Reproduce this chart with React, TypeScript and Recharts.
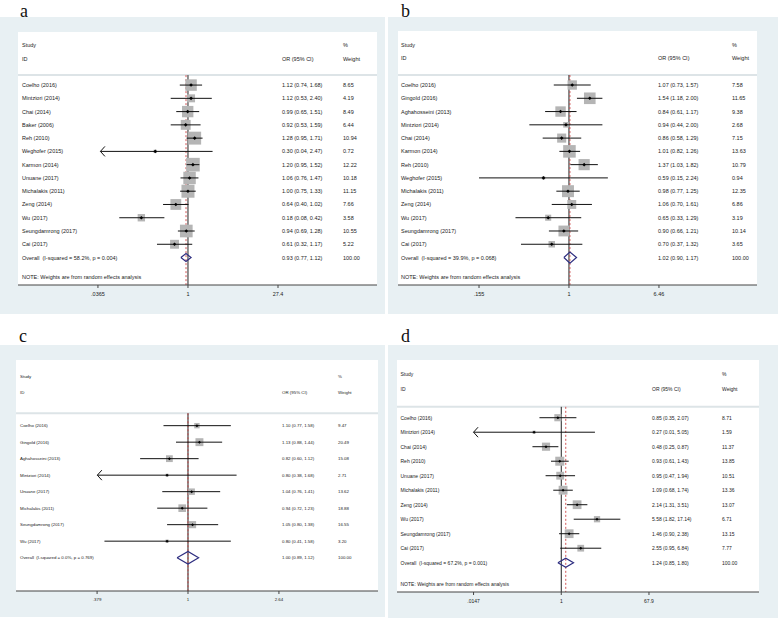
import React from 'react'
import { ComposedChart, Scatter, XAxis, YAxis, ReferenceLine } from 'recharts'

const BG = '#e8f0f3'
const FONT = '"Liberation Sans", Arial, Helvetica, sans-serif'
const SERIF = '"Liberation Serif", "Times New Roman", serif'

// panel a
const studiesA = ['Coelho (2016)', 'Mintziori (2014)', 'Chai (2014)', 'Baker (2006)', 'Reh (2010)', 'Weghofer (2015)', 'Karmon (2014)', 'Unuane (2017)', 'Michalakis (2011)', 'Zeng (2014)', 'Wu (2017)', 'Seungdamrong (2017)', 'Cai (2017)']
const orA = [1.12, 1.12, 0.99, 0.92, 1.28, 0.30, 1.20, 1.06, 1.00, 0.64, 0.18, 0.94, 0.61]
const lowA = [0.74, 0.53, 0.65, 0.53, 0.95, 0.04, 0.95, 0.76, 0.75, 0.40, 0.08, 0.69, 0.32]
const highA = [1.68, 2.40, 1.51, 1.59, 1.71, 2.47, 1.52, 1.47, 1.33, 1.02, 0.42, 1.28, 1.17]
const weightA = [8.65, 4.19, 8.49, 6.44, 10.94, 0.72, 12.22, 10.18, 11.15, 7.66, 3.58, 10.55, 5.22]
const overallA = [0.93, 0.77, 1.12]
const hetA = 'I-squared = 58.2%, p = 0.004'
const ticksA = [0.0365, 1, 27.4]
const tickLabelsA = ['.0365', '1', '27.4']
const arrowsA = ['Weghofer (2015)']

// panel b
const studiesB = ['Coelho (2016)', 'Gingold (2016)', 'Aghahosseini (2013)', 'Mintziori (2014)', 'Chai (2014)', 'Karmon (2014)', 'Reh (2010)', 'Weghofer (2015)', 'Michalakis (2011)', 'Zeng (2014)', 'Wu (2017)', 'Seungdamrong (2017)', 'Cai (2017)']
const orB = [1.07, 1.54, 0.84, 0.94, 0.86, 1.01, 1.37, 0.59, 0.98, 1.06, 0.65, 0.90, 0.70]
const lowB = [0.73, 1.18, 0.61, 0.44, 0.58, 0.82, 1.03, 0.15, 0.77, 0.70, 0.33, 0.66, 0.37]
const highB = [1.57, 2.00, 1.17, 2.00, 1.29, 1.26, 1.82, 2.24, 1.25, 1.61, 1.29, 1.21, 1.32]
const weightB = [7.58, 11.65, 9.38, 2.68, 7.15, 13.63, 10.79, 0.94, 12.35, 6.86, 3.19, 10.14, 3.65]
const overallB = [1.02, 0.90, 1.17]
const hetB = 'I-squared = 39.9%, p = 0.068'
const ticksB = [0.155, 1, 6.46]
const tickLabelsB = ['.155', '1', '6.46']
const arrowsB: string[] = []

// panel c
const studiesC = ['Coelho (2016)', 'Gingold (2016)', 'Aghahosseini (2013)', 'Mintziori (2014)', 'Unuane (2017)', 'Michalakis (2011)', 'Seungdamrong (2017)', 'Wu (2017)']
const orC = [1.10, 1.13, 0.82, 0.80, 1.04, 0.94, 1.05, 0.80]
const lowC = [0.77, 0.88, 0.60, 0.38, 0.76, 0.72, 0.80, 0.41]
const highC = [1.58, 1.44, 1.12, 1.68, 1.41, 1.23, 1.38, 1.58]
const weightC = [9.47, 20.49, 15.08, 2.71, 13.62, 18.88, 16.55, 3.20]
const overallC = [1.00, 0.89, 1.12]
const hetC = 'I-squared = 0.0%, p = 0.769'
const ticksC = [0.379, 1, 2.64]
const tickLabelsC = ['.379', '1', '2.64']
const arrowsC = ['Mintziori (2014)']

// panel d
const studiesD = ['Coelho (2016)', 'Mintziori (2014)', 'Chai (2014)', 'Reh (2010)', 'Unuane (2017)', 'Michalakis (2011)', 'Zeng (2014)', 'Wu (2017)', 'Seungdamrong (2017)', 'Cai (2017)']
const orD = [0.85, 0.27, 0.48, 0.93, 0.95, 1.09, 2.14, 5.58, 1.46, 2.55]
const lowD = [0.35, 0.01, 0.25, 0.61, 0.47, 0.68, 1.31, 1.82, 0.90, 0.95]
const highD = [2.07, 5.05, 0.87, 1.43, 1.94, 1.74, 3.51, 17.14, 2.38, 6.84]
const weightD = [8.71, 1.59, 11.37, 13.85, 10.51, 13.36, 13.07, 6.71, 13.15, 7.77]
const overallD = [1.24, 0.85, 1.80]
const hetD = 'I-squared = 67.2%, p = 0.001'
const ticksD = [0.0147, 1, 67.9]
const tickLabelsD = ['.0147', '1', '67.9']
const arrowsD = ['Mintziori (2014)']

const NOTE = 'NOTE: Weights are from random effects analysis'

const Empty = () => <g />

function ForestPanel(p: any) {
  const n = p.studies.length
  const rows = p.studies.map((s: string, i: number) => ({
    x: p.or[i],
    y: i,
    w: p.weight[i],
    lo: Math.max(p.low[i], p.ticks[0]),
    hi: Math.min(p.high[i], p.ticks[2]),
    arrow: p.arrows.includes(s),
  }))
  const [oOr, oLo, oHi] = p.overall
  const h = p.diamondHalf
  const diamond = [
    { x: oLo, y: n },
    { x: oOr, y: n - h },
    { x: oHi, y: n },
    { x: oOr, y: n + h },
    { x: oLo, y: n },
  ]
  const arrowPts = rows.filter((r: any) => r.arrow).map((r: any) => ({ x: r.lo, y: r.y }))
  const yTicks = [-3, -2, ...rows.map((r: any) => r.y), n]
  if (p.note) yTicks.push(n + 1.5)
  const yBottom = p.domainY[1]
  const ci = (o: number, l: number, u: number) => `${o.toFixed(2)} (${l.toFixed(2)}, ${u.toFixed(2)})`

  const txt = (x: number, y: number, s: string, key: string) => (
    <text key={key} x={x} y={y} fontSize={p.font} fontFamily={FONT} fill="#222" dominantBaseline="central" style={{ whiteSpace: 'pre' }}>
      {s}
    </text>
  )

  // all the text columns hang off the row ticks of the y axis
  const rowTick = (props: any) => {
    const v = props.payload.value
    const y = props.y
    const c = p.cols
    let items: any[] = []
    if (v === -3) items = [txt(c[0], y, 'Study', 's'), txt(c[2], y, '%', 'w')]
    else if (v === -2) items = [txt(c[0], y, 'ID', 's'), txt(c[1], y, 'OR (95% CI)', 'c'), txt(c[2], y, 'Weight', 'w')]
    else if (v === n) items = [txt(c[0], y, `Overall  (${p.het})`, 's'), txt(c[1], y, ci(oOr, oLo, oHi), 'c'), txt(c[2], y, '100.00', 'w')]
    else if (v === n + 1.5) items = [txt(c[0], y, NOTE, 's')]
    else {
      const i = v
      items = [txt(c[0], y, p.studies[i], 's'), txt(c[1], y, ci(p.or[i], p.low[i], p.high[i]), 'c'), txt(c[2], y, p.weight[i].toFixed(2), 'w')]
    }
    return <g>{items}</g>
  }

  const Box = (props: any) => {
    const s = p.boxK * Math.sqrt(props.payload.w)
    return <rect x={props.cx - s / 2} y={props.cy - s / 2} width={s} height={s} fill="#b5b5b5" />
  }
  const Dot = (props: any) => {
    const r = p.dot
    const { cx, cy } = props
    return <polygon points={`${cx - r},${cy} ${cx},${cy - r} ${cx + r},${cy} ${cx},${cy + r}`} fill="#000" />
  }
  const Arrow = (props: any) => {
    const { cx, cy } = props
    return <polyline points={`${cx + 4.5},${cy - 5} ${cx},${cy} ${cx + 4.5},${cy + 5}`} fill="none" stroke="#111" strokeWidth={1} />
  }

  return (
    <div style={{ position: 'absolute', left: p.left, top: p.top }}>
      <ComposedChart width={p.width} height={p.plotHeight + 24} margin={{ top: 0, right: 0, bottom: 0, left: 0 }}>
        <XAxis
          type="number"
          dataKey="x"
          scale="log"
          domain={p.domainX}
          allowDataOverflow
          ticks={p.ticks}
          interval={0}
          height={24}
          stroke="#444"
          tickSize={3}
          tickMargin={p.tickMargin}
          tickFormatter={(v: number) => p.tickLabels[p.ticks.indexOf(v)]}
          tick={{ fontSize: p.font, fill: '#222', fontFamily: FONT }}
        />
        <YAxis
          type="number"
          dataKey="y"
          domain={p.domainY}
          reversed
          allowDataOverflow
          mirror
          width={1}
          ticks={yTicks}
          interval={0}
          axisLine={false}
          tickLine={false}
          tick={rowTick}
        />
        <ReferenceLine y={-0.75} stroke="#dde4e7" strokeWidth={2} />
        <ReferenceLine segment={[{ x: 1, y: -0.75 }, { x: 1, y: yBottom }]} stroke="#222" strokeWidth={1} />
        <Scatter data={rows} shape={Box} isAnimationActive={false} />
        {rows.map((r: any) => (
          <Scatter
            key={'ci' + r.y}
            data={[{ x: r.lo, y: r.y }, { x: r.hi, y: r.y }]}
            line={{ stroke: '#111', strokeWidth: 1, fill: 'none' }}
            shape={Empty}
            isAnimationActive={false}
          />
        ))}
        <Scatter data={rows} shape={Dot} isAnimationActive={false} />
        <Scatter data={arrowPts} shape={Arrow} isAnimationActive={false} />
        <ReferenceLine segment={[{ x: oOr, y: -0.75 }, { x: oOr, y: yBottom }]} stroke="#cc4444" strokeWidth={0.9} strokeDasharray="2 2" />
        <Scatter data={diamond} line={{ stroke: '#2e2e80', strokeWidth: 1.2, fill: 'none' }} shape={Empty} isAnimationActive={false} />
      </ComposedChart>
    </div>
  )
}

export default function App() {
  return (
    <div style={{ position: 'absolute', left: 0, top: 0, width: 778, height: 618, background: '#fff', overflow: 'hidden' }}>
      <svg width={778} height={618} style={{ position: 'absolute', left: 0, top: 0 }}>
        <rect x={0} y={17} width={385} height={297} fill={BG} />
        <rect x={388} y={17} width={390} height={297} fill={BG} />
        <rect x={0} y={345} width={385} height={272} fill={BG} />
        <rect x={388} y={345} width={390} height={273} fill={BG} />
        <rect x={18} y={32} width={359} height={253} fill="#fff" />
        <rect x={398} y={31} width={359} height={254} fill="#fff" />
        <rect x={16} y={360} width={362} height={231} fill="#fff" />
        <rect x={397} y={360} width={362} height={232} fill="#fff" />
        <text x={20} y={16.5} fontSize={18} fontFamily={SERIF} fill="#111">a</text>
        <text x={401} y={16.5} fontSize={18} fontFamily={SERIF} fill="#111">b</text>
        <text x={19} y={342} fontSize={18} fontFamily={SERIF} fill="#111">c</text>
        <text x={401} y={342} fontSize={18} fontFamily={SERIF} fill="#111">d</text>
      </svg>
      <ForestPanel
        studies={studiesA} or={orA} low={lowA} high={highA} weight={weightA}
        overall={overallA} het={hetA} ticks={ticksA} tickLabels={tickLabelsA} arrows={arrowsA} note
        left={18} top={32} width={359} plotHeight={253}
        domainX={[0.00193, 1044]} domainY={[-4, 15.07]}
        cols={[4, 264, 325]} font={5.5} boxK={3.9} diamondHalf={0.3} dot={1.8} tickMargin={4}
      />
      <ForestPanel
        studies={studiesB} or={orB} low={lowB} high={highB} weight={weightB}
        overall={overallB} het={hetB} ticks={ticksB} tickLabels={tickLabelsB} arrows={arrowsB} note
        left={398} top={31} width={359} plotHeight={254}
        domainX={[0.0289, 49.3]} domainY={[-4.07, 15.07]}
        cols={[3, 260, 334]} font={5.5} boxK={3.4} diamondHalf={0.42} dot={1.8} tickMargin={4}
      />
      <ForestPanel
        studies={studiesC} or={orC} low={lowC} high={highC} weight={weightC}
        overall={overallC} het={hetC} ticks={ticksC} tickLabels={tickLabelsC} arrows={arrowsC} note={false}
        left={16} top={360} width={362} plotHeight={231}
        domainX={[0.1595, 7.6]} domainY={[-3.98, 10.02]}
        cols={[4, 266, 322]} font={4.4} boxK={1.75} diamondHalf={0.38} dot={1.5} tickMargin={4}
      />
      <ForestPanel
        studies={studiesD} or={orD} low={lowD} high={highD} weight={weightD}
        overall={overallD} het={hetD} ticks={ticksD} tickLabels={tickLabelsD} arrows={arrowsD} note
        left={397} top={360} width={362} plotHeight={232}
        domainX={[0.00037, 13500]} domainY={[-3.98, 12.02]}
        cols={[3.5, 255, 325]} font={5} boxK={2.42} diamondHalf={0.31} dot={1.5} tickMargin={4}
      />
    </div>
  )
}
